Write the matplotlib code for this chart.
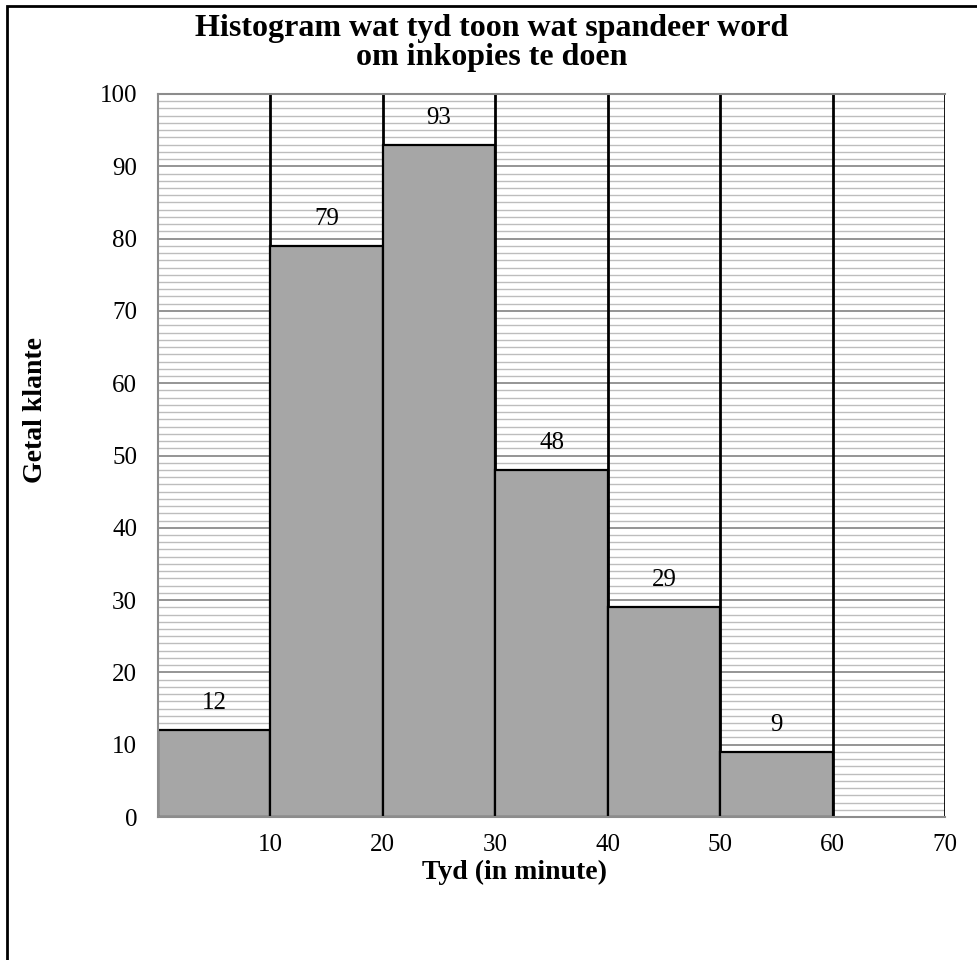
import matplotlib
matplotlib.use("Agg")
import matplotlib.pyplot as plt
from matplotlib.patches import Rectangle
from matplotlib.ticker import MultipleLocator

plt.rcParams['font.family'] = ['Liberation Serif', 'DejaVu Serif']

bin_edges = [0, 10, 20, 30, 40, 50, 60]
counts = [12, 79, 93, 48, 29, 9]
x_ticks = [10, 20, 30, 40, 50, 60, 70]
y_ticks = [0, 10, 20, 30, 40, 50, 60, 70, 80, 90, 100]
title = "Histogram wat tyd toon wat spandeer word\nom inkopies te doen"
xlabel = "Tyd (in minute)"
ylabel = "Getal klante"

W, H = 977, 960
fig = plt.figure(figsize=(W / 100, H / 100), dpi=100)
ax = fig.add_axes([158 / W, (H - 817) / H, (945 - 158) / W, (817 - 94) / H])
ax.set_axisbelow(True)

ax.set_xlim(0, 70)
ax.set_ylim(0, 100)

# fine horizontal grid
ax.yaxis.set_minor_locator(MultipleLocator(1))
ax.grid(which='minor', axis='y', color='#bdbdbd', lw=1.0)
ax.grid(which='major', axis='y', color='#8c8c8c', lw=1.3)
for xv in x_ticks:
    ax.axvline(xv, color='black', lw=2, zorder=1)

widths = [bin_edges[i + 1] - bin_edges[i] for i in range(len(counts))]
bars = ax.bar(bin_edges[:-1], counts, width=widths, align='edge',
              color='#a6a6a6', edgecolor='black', lw=1.6, zorder=2)
for x0, w, c in zip(bin_edges[:-1], widths, counts):
    ax.annotate(str(c), (x0 + w / 2, c), xytext=(0, 19.5), textcoords='offset points',
                ha='center', va='center', fontsize=18)

ax.set_xticks(x_ticks)
ax.set_yticks(y_ticks)
ax.tick_params(axis='both', which='both', length=0, labelsize=18)
ax.tick_params(axis='x', pad=12)
ax.tick_params(axis='y', pad=15)
for s in ['left', 'top', 'bottom']:
    ax.spines[s].set_color('#8c8c8c')
    ax.spines[s].set_linewidth(1.5)
ax.spines['right'].set_visible(False)

fig.text(492 / W, 1 - 43 / H, title, ha='center', va='center', fontsize=23,
         fontweight='bold', linespacing=0.98)
fig.text(514 / W, 1 - 872 / H, xlabel, ha='center', va='center', fontsize=20,
         fontweight='bold')
fig.text(36 / W, 1 - 410 / H, ylabel, ha='center', va='center', fontsize=20,
         fontweight='bold', rotation=90)

fig.patches.append(Rectangle((7 / W, -0.1), 1.2, 1.1 - 6 / H, transform=fig.transFigure,
                             fill=False, edgecolor='black', lw=2, figure=fig))

fig.savefig("out.png", dpi=100)
